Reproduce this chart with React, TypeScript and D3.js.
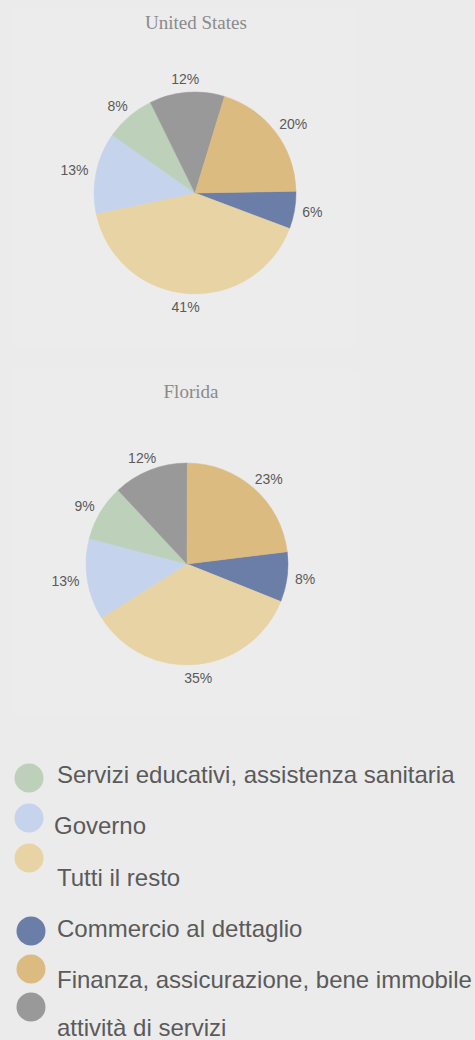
import React from "react";
import * as d3 from "d3";

const categories = [
  "Servizi educativi, assistenza sanitaria",
  "Governo",
  "Tutti il resto",
  "Commercio al dettaglio",
  "Finanza, assicurazione, bene immobile",
  "attività di servizi",
];
const colors = ["#bdd0b9", "#c5d3ec", "#e8d3a5", "#6a7ea8", "#dcbb80", "#999999"];
const usValues = [8, 13, 41, 6, 20, 12];
const flValues = [9, 13, 35, 8, 23, 12];
// clockwise drawing order starting near 3 o'clock
const sliceOrder = [3, 2, 1, 0, 5, 4];

const W = 475;
const H = 1040;
const FONT = "'Liberation Sans', Arial, sans-serif";

type PieProps = { title: string; values: number[]; cx: number; cy: number; start: number; titleX: number; titleY: number };

function Pie({ title, values, cx, cy, start, titleX, titleY }: PieProps) {
  const r = 101;
  const data = sliceOrder.map((i) => ({ i, v: values[i] }));
  const pie = d3
    .pie<{ i: number; v: number }>()
    .sort(null)
    .value((d) => d.v)
    .startAngle(start)
    .endAngle(start + 2 * Math.PI);
  const arcs = pie(data);
  const arc = d3.arc<d3.PieArcDatum<{ i: number; v: number }>>().innerRadius(0).outerRadius(r);
  const total = d3.sum(values);
  const fs = 14;
  return (
    <g>
      <text x={titleX} y={titleY} textAnchor="middle" fontFamily="'Liberation Serif', 'Times New Roman', serif" fontSize={19} fill="#8a8a8a">
        {title}
      </text>
      <g transform={`translate(${cx},${cy})`}>
        {arcs.map((a) => (
          <path key={a.data.i} d={arc(a) || ""} fill={colors[a.data.i]} stroke={colors[a.data.i]} strokeWidth={0.5} />
        ))}
        {arcs.map((a) => {
          const mid = (a.startAngle + a.endAngle) / 2;
          const label = `${Math.round((a.data.v / total) * 100)}%`;
          const tw = (label.length - 1) * 0.556 * fs + 0.889 * fs;
          const s = Math.sin(mid);
          const c = -Math.cos(mid);
          const lr = r + 8;
          const x = s * lr + s * (tw / 2);
          const y = c * lr + c * 5;
          return (
            <text key={"l" + a.data.i} x={x} y={y} textAnchor="middle" dominantBaseline="central" fontFamily={FONT} fontSize={fs} fill="#5a5a5a">
              {label}
            </text>
          );
        })}
      </g>
    </g>
  );
}

const legendRows = [
  { cx: 29, cy: 778, tx: 57, ty: 783 },
  { cx: 29, cy: 818, tx: 54, ty: 834 },
  { cx: 29, cy: 858, tx: 57, ty: 886 },
  { cx: 31, cy: 931, tx: 57, ty: 937 },
  { cx: 31, cy: 969, tx: 57, ty: 988 },
  { cx: 31, cy: 1007, tx: 57, ty: 1036 },
];

export default function App() {
  return (
    <svg width={W} height={H} style={{ position: "absolute", left: 0, top: 0, display: "block" }}>
      <rect x={0} y={0} width={W} height={H} fill="#ebebeb" />
      <rect x={13} y={7} width={342} height={341} rx={6} fill="#ececec" />
      <rect x={13} y={369} width={348} height={348} rx={6} fill="#ececec" />
      <Pie title="United States" values={usValues} cx={195} cy={193} start={(89 * Math.PI) / 180} titleX={196} titleY={29} />
      <Pie title="Florida" values={flValues} cx={187} cy={564} start={(83 * Math.PI) / 180} titleX={191} titleY={398} />
      {categories.map((c, i) => (
        <g key={c}>
          <circle cx={legendRows[i].cx} cy={legendRows[i].cy} r={14.5} fill={colors[i]} />
          <text x={legendRows[i].tx} y={legendRows[i].ty} fontFamily={FONT} fontSize={24} fill="#5a5a5a">
            {c}
          </text>
        </g>
      ))}
    </svg>
  );
}
